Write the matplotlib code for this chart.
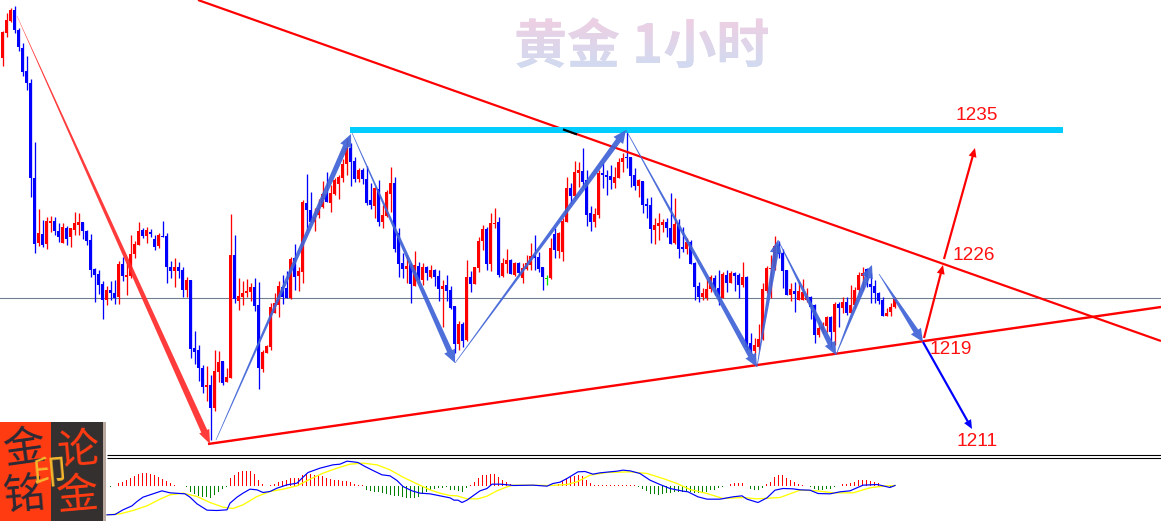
import numpy as np
import matplotlib
matplotlib.use('Agg')
import matplotlib.pyplot as plt
from matplotlib.patches import Polygon, Rectangle, PathPatch
from matplotlib.textpath import TextPath
from matplotlib.font_manager import FontProperties
from matplotlib.transforms import Affine2D
from matplotlib.colors import LinearSegmentedColormap

W, H = 1161, 521

# --- candles (chart units = rows of the image, top is 0) ---
opens = [58, 33, 21, 10, 30, 48, 71, 83, 178, 243, 234, 244, 223, 221, 231, 243, 228, 237, 230, 225,
         222, 231, 240, 269, 274, 284, 300, 290, 293, 297, 264, 277, 276, 254, 245, 230, 236, 232, 239, 246,
         236, 236, 267, 271, 267, 270, 290, 280, 348, 350, 368, 387, 385, 408, 372, 361, 382, 378, 255, 301,
         297, 293, 292, 287, 305, 369, 353, 347, 313, 305, 287, 288, 298, 258, 276, 272, 203, 210, 222, 215,
         207, 194, 203, 194, 184, 178, 164, 148, 161, 179, 170, 179, 200, 206, 189, 222, 216, 194, 183, 233,
         263, 269, 264, 286, 266, 280, 267, 277, 270, 276, 289, 285, 290, 306, 344, 324, 340, 277, 284, 268,
         241, 229, 264, 224, 222, 276, 264, 260, 275, 263, 278, 269, 265, 255, 257, 267, 278, 278, 234, 251,
         252, 222, 188, 196, 173, 171, 180, 213, 222, 215, 173, 175, 176, 183, 178, 162, 157, 157, 175, 186,
         181, 204, 205, 230, 226, 225, 222, 228, 243, 223, 247, 249, 242, 263, 286, 297, 298, 289, 278, 288,
         298, 275, 283, 273, 275, 285, 277, 343, 351, 347, 339, 291, 269, 268, 245, 253, 270, 295, 291, 300,
         300, 300, 297, 305, 335, 330, 326, 317, 332, 304, 308, 302, 313, 305, 290, 276, 269, 284, 286, 293,
         300, 316, 312, 307]
closes = [32, 20, 10, 30, 47, 72, 83, 178, 244, 233, 245, 221, 221, 231, 237, 227, 239, 228, 223, 222,
          231, 241, 270, 275, 285, 300, 290, 293, 298, 264, 276, 275, 254, 244, 231, 236, 230, 234, 247, 235,
          237, 267, 271, 267, 271, 290, 280, 349, 352, 368, 387, 385, 408, 371, 362, 383, 377, 255, 299, 296,
          293, 291, 287, 306, 368, 352, 346, 307, 303, 286, 297, 298, 259, 277, 271, 202, 210, 222, 217, 208,
          194, 202, 193, 180, 177, 164, 148, 162, 179, 170, 179, 203, 205, 188, 222, 215, 192, 183, 249, 264,
          269, 266, 284, 265, 280, 267, 273, 270, 277, 289, 286, 291, 308, 344, 324, 341, 277, 284, 267, 241,
          229, 264, 223, 223, 275, 263, 260, 274, 263, 273, 268, 263, 256, 258, 269, 277, 278, 248, 250, 233,
          221, 188, 196, 172, 170, 182, 215, 222, 214, 173, 175, 177, 180, 177, 162, 158, 158, 176, 186, 180,
          205, 206, 229, 225, 223, 222, 228, 244, 224, 249, 249, 242, 264, 287, 297, 293, 289, 277, 288, 297,
          274, 283, 273, 276, 285, 277, 347, 350, 345, 339, 289, 268, 268, 246, 254, 271, 295, 289, 294, 291,
          292, 296, 307, 335, 328, 326, 317, 332, 304, 308, 302, 313, 305, 290, 275, 273, 277, 287, 293, 301,
          316, 313, 307, 299]
highs = [31, 13, 8, 6, 28, 43, 56, 79, 142, 209, 220, 217, 216, 217, 223, 223, 226, 228, 212, 213,
         222, 230, 234, 268, 270, 281, 286, 281, 280, 261, 257, 262, 235, 241, 222, 228, 227, 229, 235, 233,
         221, 233, 261, 258, 262, 267, 277, 280, 331, 345, 365, 366, 375, 350, 351, 361, 368, 214, 235, 278,
         281, 279, 283, 278, 282, 350, 345, 303, 293, 281, 275, 271, 257, 244, 267, 200, 174, 192, 208, 199,
         181, 172, 185, 178, 175, 159, 138, 143, 157, 168, 168, 166, 183, 187, 180, 205, 190, 167, 177, 228,
         253, 255, 263, 251, 262, 263, 266, 265, 269, 270, 280, 275, 286, 306, 321, 322, 260, 271, 267, 237,
         225, 227, 213, 208, 217, 258, 249, 259, 262, 262, 263, 255, 243, 235, 252, 267, 275, 238, 228, 232,
         218, 177, 183, 161, 162, 148, 170, 206, 208, 170, 163, 170, 165, 167, 158, 153, 130, 157, 168, 179,
         181, 198, 197, 218, 213, 219, 218, 193, 198, 219, 227, 238, 240, 262, 282, 288, 279, 275, 275, 270,
         272, 270, 271, 272, 273, 262, 276, 333, 338, 324, 283, 266, 255, 236, 241, 249, 270, 283, 282, 282,
         279, 288, 296, 304, 322, 322, 316, 316, 302, 302, 297, 297, 285, 287, 272, 267, 268, 273, 280, 292,
         297, 308, 303, 297]
lows = [66, 37, 22, 33, 51, 76, 90, 197, 253, 246, 247, 249, 232, 235, 242, 243, 245, 247, 235, 235,
        239, 245, 277, 302, 294, 319, 305, 300, 304, 304, 281, 295, 278, 258, 245, 238, 243, 237, 250, 248,
        237, 283, 278, 287, 278, 297, 297, 358, 364, 381, 393, 401, 440, 411, 382, 385, 382, 378, 303, 310,
        305, 297, 301, 311, 389, 372, 353, 350, 313, 317, 304, 298, 299, 290, 291, 283, 230, 222, 231, 218,
        208, 202, 212, 195, 199, 182, 175, 186, 182, 182, 184, 205, 209, 218, 226, 228, 217, 212, 252, 277,
        278, 283, 303, 286, 283, 285, 280, 278, 286, 301, 327, 301, 309, 353, 350, 347, 341, 292, 284, 272,
        250, 270, 271, 228, 277, 277, 273, 274, 276, 275, 283, 270, 270, 270, 272, 290, 285, 279, 258, 258,
        261, 222, 203, 198, 187, 187, 226, 231, 227, 218, 188, 195, 189, 188, 178, 172, 168, 187, 190, 197,
        213, 218, 243, 244, 240, 232, 237, 244, 244, 258, 252, 254, 264, 300, 302, 300, 300, 292, 295, 305,
        298, 292, 283, 291, 298, 287, 350, 353, 355, 350, 340, 293, 298, 270, 258, 288, 295, 301, 312, 300,
        300, 302, 319, 343, 337, 333, 332, 347, 345, 327, 313, 315, 313, 308, 293, 290, 287, 303, 303, 304,
        316, 316, 316, 308]

# --- drawn levels and lines ---
resistance_level = 130
resistance_from, resistance_to = 350, 1063
pivot_level = 298
down_trend = [(198, 0), (1161, 341)]
up_trend = [(208, 444), (1161, 307)]
touch_segment = [(563, 129.4), (577, 134.4)]

red_leg = [(17, 16), (210, 444)]
blue_legs = [[(216, 440), (351, 134)],
             [(352, 133), (455, 363)],
             [(455, 363), (626, 130)],
             [(626, 130), (757, 367)],
             [(757, 367), (778, 240)],
             [(778, 240), (836, 355)],
             [(836, 355), (872, 265)],
             [(879, 274), (923, 342)]]
up_break = [(924, 338), (943, 265)]
up_target = [(944, 259), (975, 148)]
down_target = [(923, 342), (972, 429)]

labels = ['1235', '1226', '1219', '1211']
label_x = [977, 974, 951, 977]
label_y = [116, 256, 350, 442]

# --- MACD panel (units = a third of an image row) ---
hist_first = 27
macd_hist = [-3, 0,
             8, 12, 18, 24, 30, 35, 38, 38, 36, 32, 26, 20, 14, 8, 3, 0, -2, -4, -18, -25, -30, -33, -35, -37,
             -28, -20, -10, -5, 22, 32, 40, 43, 44, 44, 35, 18, 5, 0, 3, 6, 12, 14, 18, 22, 22, 24, 32, 35,
             35, 33, 30, 28, 22, 20, 18, 16, 15, 14, 12, 4, 2, 2, -12, -16, -18, -20, -22, -25, -28, -30, -32,
             -34, -36, -36, -38, -35, -25, -18, -14, -10, -8, -6, -5,
             -12, -14, -15, -18, -6, 2, 10, 22, 32, 33, 34, 34, 25, 16, 10, 5, 1, 1, 1, 1, 0, 0, 0, 0, 0, 0,
             3, 6, 14, 22, 27, 30, 32, 28, 18, 8, 2, 2, 2, 2, 2, 2, 3, 3, 3, 2, 2, -3, -10, -17, -24, -26, -27,
             -25, -23, -22, -20, -20, -20, -20, -20, -21, -21, -22, -20, -14, -12, -8, -3, 0, 5, 7, 7, 7, 0,
             -10, -14, -14, -6, 4, 12, 26, 32, 32, 23, 16, 10, 5, 2, 0, -3, -10, -12, -12, -10, -9, -3, 0,
             5, 5, 7, 10, 16, 17, 17, 15, 12, 8, 3, -3, -3, -2]
dif_x = [107, 115, 123, 132, 137, 143, 153, 162, 170, 185, 190, 197, 207, 217, 227, 230, 237, 243, 250, 257,
         263, 270, 277, 287, 297, 302, 308, 320, 333, 340, 347, 353, 358, 365, 373, 382, 390, 397, 403, 412,
         420, 430, 440, 450, 454, 458, 462, 467, 473, 480, 487, 492, 500, 508, 513, 533, 547, 553, 560, 567,
         578, 585, 593, 600, 617, 623, 630, 640, 650, 660, 670, 683, 688, 698, 707, 720, 733, 742, 747, 758,
         767, 775, 783, 793, 800, 810, 818, 830, 840, 850, 863, 877, 883, 890, 895]
dif_y = [-88, -87, -73, -61, -48, -35, -25, -16, -22, -25, -35, -55, -74, -75, -73, -53, -35, -23, -11, -13,
         -21, -18, -8, 2, 7, 22, 39, 52, 62, 64, 73, 71, 69, 57, 45, 32, 29, 15, -3, -16,
         -23, -25, -31, -37, -44, -44, -51, -44, -31, -16, -9, 4, 4, 2, 0, 1, -2, 6, 10, 21,
         41, 42, 34, 38, 43, 46, 44, 36, 16, 3, -9, -17, -19, -34, -41, -41, -34, -31, -41, -51,
         -37, -14, -9, -10, -13, -14, -24, -25, -19, -16, 1, 3, -1, -6, 0]
dea_x = [107, 120, 133, 147, 160, 170, 183, 197, 210, 223, 233, 243, 257, 270, 283, 297, 310, 323, 337, 350,
         363, 377, 390, 403, 417, 430, 440, 450, 457, 467, 478, 487, 497, 507, 513, 530, 550, 567, 577, 590,
         607, 630, 647, 663, 677, 690, 707, 723, 743, 757, 780, 800, 817, 833, 853, 870, 883, 895]
dea_y = [-88, -85, -75, -61, -41, -28, -23, -33, -51, -65, -69, -58, -33, -18, -11, -1, 19, 37, 52, 64,
         67, 62, 47, 25, 5, -13, -23, -30, -31, -40, -40, -32, -16, -4, 1, 1, 0, 3, 11, 31,
         39, 41, 36, 21, 6, -12, -24, -39, -36, -40, -36, -14, -16, -22, -22, -7, -2, 0]

RED = '#FF0000'
BLUE = '#0000FF'
LEG_BLUE = '#3F63D6'


def px(v):
    # image pixels to points at dpi 100
    return v * 0.72


def tapered_arrow(ax, start, end, w0, w1, head_len, head_w, color, alpha=1.0, z=5):
    p0, p1 = np.array(start, float), np.array(end, float)
    d = (p1 - p0) / np.hypot(*(p1 - p0))
    n = np.array([-d[1], d[0]])
    neck = p1 - d * head_len
    pts = [p0 + n * w0 / 2, neck + n * w1 / 2, neck + n * head_w / 2, p1,
           neck - n * head_w / 2, neck - n * w1 / 2, p0 - n * w0 / 2]
    ax.add_patch(Polygon(pts, closed=True, fc=color, ec='none', alpha=alpha, zorder=z))


fig = plt.figure(figsize=(W / 100, H / 100), dpi=100, facecolor='white')
ax = fig.add_axes([0, 0, 1, 1])
ax.set_xlim(0, W)
ax.set_ylim(H, 0)
ax.axis('off')

# pivot line goes under the candles
ax.axhline(pivot_level, color='#708090', lw=px(1.1), zorder=1)

# --- candles ---
xs = 2.5 + 4 * np.arange(len(opens))
o = np.array(opens)
c = np.array(closes)
colors = np.where(c < o, RED, np.where(c > o, BLUE, '#00E000'))
ax.vlines(xs, highs, lows, colors=colors, lw=px(1.3), zorder=2)
tops = np.minimum(o, c)
heights = np.maximum(np.abs(o - c), 1)
ax.bar(xs, heights, width=3.6, bottom=tops, color=colors, lw=0, zorder=3)

# --- trend lines and levels ---
ax.plot(*zip(*down_trend), color=RED, lw=px(2.2), zorder=4, solid_capstyle='butt')
ax.plot(*zip(*up_trend), color=RED, lw=px(2.4), zorder=4, solid_capstyle='butt')
ax.hlines(resistance_level, resistance_from, resistance_to, color='#00CCFF', lw=px(6), zorder=4)
ax.plot(*zip(*touch_segment), color='black', lw=px(2.2), zorder=5, solid_capstyle='butt')

# --- arrows ---
tapered_arrow(ax, red_leg[0], red_leg[1], 0.3, 6.5, 14, 11, '#FF2A2A', alpha=0.92)
for leg in blue_legs:
    tapered_arrow(ax, leg[0], leg[1], 0.6, 5.5, 13, 12, LEG_BLUE, alpha=0.92)
tapered_arrow(ax, up_break[0], up_break[1], 2.2, 2.2, 9, 8, RED, z=6)
tapered_arrow(ax, up_target[0], up_target[1], 2.2, 2.2, 9, 8, RED, z=6)
tapered_arrow(ax, down_target[0], down_target[1], 2.2, 2.2, 9, 8, BLUE, z=6)

for s, x, y in zip(labels, label_x, label_y):
    ax.text(x, y, s, color='#FF1010', ha='center', va='center', family='Liberation Sans',
            fontsize=px(19), zorder=7)

# --- title with a pink to blue fade ---
title = '黄金 1小时'
title_size = 53
title_x, title_base = 514, 63
title_font = FontProperties(family='Noto Sans CJK SC', weight='bold')
ax.text(title_x, title_base, title, fontproperties=title_font, fontsize=px(title_size),
        color='#E0D5EA', ha='left', va='baseline', zorder=1)
path = TextPath((0, 0), title, size=title_size, prop=title_font)
path = path.transformed(Affine2D().scale(1, -1).translate(title_x, title_base))
clip = PathPatch(path, fc='none', ec='none', transform=ax.transData)
ax.add_patch(clip)
fade = np.linspace(0, 1, 64).reshape(-1, 1)
im = ax.imshow(fade, extent=(510, 775, 68, 19), cmap=LinearSegmentedColormap.from_list(
    'fade', ['#EFCFE3', '#D0DBF1']), aspect='auto', zorder=1.5, origin='upper')
im.set_clip_path(clip)
ax.set_xlim(0, W)
ax.set_ylim(H, 0)

# --- logo block bottom left ---
ax.add_patch(Rectangle((0, 422), 51, 99, fc='#FF3B12', ec='none', zorder=8))
ax.add_patch(Rectangle((51, 422), 52, 99, fc='#33302F', ec='none', zorder=8))
ax.add_patch(Rectangle((103, 422), 3, 99, fc='#B8A8A0', ec='none', zorder=8))
logo_font = 'Noto Sans CJK SC'
for s, x, y, col, rot in [('金', 25, 449, '#2B2A35', 8), ('铭', 24, 496, '#2B2A35', 5),
                          ('论', 78, 451, '#FF3B12', 5), ('金', 77, 496, '#FF3B12', 5)]:
    ax.text(x, y, s, color=col, family=logo_font, weight='medium', fontsize=px(42), rotation=rot,
            ha='center', va='center', zorder=9)
ax.text(50, 474, '印', color='#F5B82E', family=logo_font, weight='medium', fontsize=px(34), rotation=5,
        ha='center', va='center', zorder=10)

# --- panel divider ---
ax.hlines([455, 457.6], 107, W, color='black', lw=px(1.1), zorder=4)

# --- MACD panel: baseline sits at row 485.5 ---
top, bottom = 459, 521
ax2 = fig.add_axes([0, 1 - bottom / H, 1, (bottom - top) / H])
ax2.patch.set_alpha(0)
ax2.set_xlim(0, W)
ax2.set_ylim(-3 * (bottom - 485.5), 3 * (485.5 - top))
ax2.axis('off')
hist = np.array(macd_hist)
hist_x = 2.5 + 4 * (hist_first + np.arange(len(hist)))
up, down = hist > 0, hist < 0
ax2.bar(hist_x[up], hist[up], width=1, color='#FF0000', lw=0, zorder=1)
ax2.bar(hist_x[down], hist[down], width=1, color='#008000', lw=0, zorder=1)
ax2.plot(dea_x, dea_y, color='#FFFF00', lw=px(1.3), zorder=2)
ax2.plot(dif_x, dif_y, color=BLUE, lw=px(1.2), zorder=3)

fig.savefig('out.png', dpi=100)
